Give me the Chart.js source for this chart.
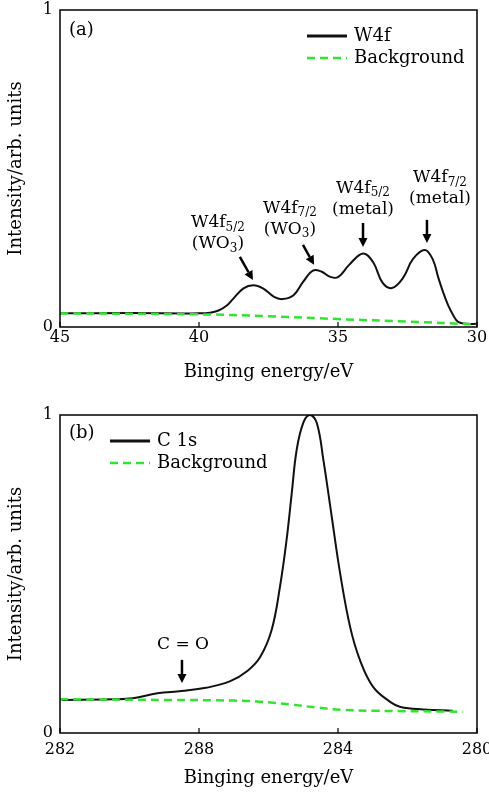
<!DOCTYPE html>
<html>
<head>
<meta charset="utf-8">
<script src="https://cdn.jsdelivr.net/npm/chart.js@4.4.0/dist/chart.umd.min.js"></script>
<style>
  html, body { margin: 0; padding: 0; background: #fff; overflow: hidden; }
  .panel { position: absolute; left: 0; width: 489px; }
  #panelA { top: 0; height: 385px; }
  #panelB { top: 390px; height: 404px; }
</style>
</head>
<body>
<div class="panel" id="panelA"><canvas id="chartA"></canvas></div>
<div class="panel" id="panelB"><canvas id="chartB"></canvas></div>
<script>
// panel (a): W4f spectrum
const energyA = [45, 42.5, 40, 39.6, 39.3, 39.0, 38.78, 38.4, 38.05, 37.7, 37.3, 37.0, 36.6, 36.25, 35.9, 35.6, 35.3, 35.0, 34.6, 34.1, 33.74, 33.4, 33.06, 32.66, 32.30, 31.87, 31.58, 31.40, 31.22, 31.04, 30.86, 30.68, 30.36, 30];
const w4f = [0.043, 0.044, 0.043, 0.045, 0.052, 0.068, 0.088, 0.122, 0.132, 0.122, 0.095, 0.088, 0.10, 0.143, 0.178, 0.175, 0.159, 0.157, 0.196, 0.232, 0.205, 0.14, 0.123, 0.155, 0.215, 0.243, 0.211, 0.158, 0.11, 0.069, 0.038, 0.016, 0.01, 0.01];
const energyBgA = [45, 40, 37.5, 35, 32.5, 30];
const bgA = [0.043, 0.04, 0.034, 0.025, 0.017, 0.008];
const tickValuesA = [45, 40, 35, 30];
const tickLabelsA = ['45', '40', '35', '30'];

// panel (b): C 1s spectrum
const energyB = [291.95, 290.5, 289.9, 289.2, 288.5, 287.8, 287.1, 286.6, 286.24, 285.91, 285.67, 285.48, 285.33, 285.19, 285.0, 284.81, 284.61, 284.42, 284.18, 283.94, 283.65, 283.37, 282.99, 282.5, 282.2, 281.55, 280.7];
const c1s = [0.104, 0.106, 0.109, 0.125, 0.132, 0.142, 0.163, 0.196, 0.239, 0.324, 0.46, 0.607, 0.755, 0.89, 0.975, 1.0, 0.975, 0.858, 0.68, 0.503, 0.333, 0.23, 0.145, 0.098, 0.082, 0.074, 0.07];
const energyBgB = [292, 289, 287, 286.2, 285.4, 284.6, 283.9, 283, 280.4];
const bgB = [0.106, 0.104, 0.102, 0.098, 0.09, 0.08, 0.073, 0.07, 0.067];
const tickValuesB = [292, 288, 284, 280];
const tickLabelsB = ['282', '288', '284', '280'];

// peak labels, anchored in data coordinates
const notesA = [
  { lines: [['W4f', '5/2', ''], ['(WO', '3', ')']], textAt: [39.32, 0.328], from: [38.53, 0.221], to: [38.06, 0.148] },
  { lines: [['W4f', '7/2', ''], ['(WO', '3', ')']], textAt: [36.73, 0.375], from: [36.26, 0.259], to: [35.86, 0.196] },
  { lines: [['W4f', '5/2', ''], ['(metal)', '', '']], textAt: [34.1, 0.438], from: [34.1, 0.328], to: [34.1, 0.252] },
  { lines: [['W4f', '7/2', ''], ['(metal)', '', '']], textAt: [31.33, 0.470], from: [31.8, 0.338], to: [31.8, 0.265] }
];
const notesB = [
  { lines: [['C = O', '', '']], textAt: [288.46, 0.277], from: [288.49, 0.230], to: [288.49, 0.157] }
];

const FONT = '"DejaVu Serif", serif';
const GREEN = 'rgb(50, 228, 50)';

function pts(xs, ys) {
  return xs.map((x, i) => ({ x: x, y: ys[i] }));
}

function drawRich(ctx, parts, cx, cy) {
  const [main, sub, tail] = parts;
  ctx.font = '17px ' + FONT;
  const w1 = ctx.measureText(main).width;
  const w3 = ctx.measureText(tail).width;
  ctx.font = '12px ' + FONT;
  const w2 = sub ? ctx.measureText(sub).width : 0;
  const x0 = cx - (w1 + w2 + w3) / 2;
  ctx.textAlign = 'left';
  ctx.textBaseline = 'middle';
  ctx.font = '17px ' + FONT;
  ctx.fillText(main, x0, cy);
  if (sub) {
    ctx.font = '12px ' + FONT;
    ctx.fillText(sub, x0 + w1, cy + 5);
  }
  if (tail) {
    ctx.font = '17px ' + FONT;
    ctx.fillText(tail, x0 + w1 + w2, cy);
  }
}

function drawArrow(ctx, x1, y1, x2, y2) {
  const ang = Math.atan2(y2 - y1, x2 - x1);
  const hl = 9, hw = 4.5;
  const bx = x2 - hl * Math.cos(ang), by = y2 - hl * Math.sin(ang);
  ctx.lineWidth = 2.5;
  ctx.beginPath();
  ctx.moveTo(x1, y1);
  ctx.lineTo(bx, by);
  ctx.stroke();
  ctx.beginPath();
  ctx.moveTo(x2, y2);
  ctx.lineTo(bx + hw * Math.sin(ang), by - hw * Math.cos(ang));
  ctx.lineTo(bx - hw * Math.sin(ang), by + hw * Math.cos(ang));
  ctx.closePath();
  ctx.fill();
}

const decor = {
  id: 'decor',
  afterDatasetsDraw(chart, args, opts) {
    const { ctx, chartArea: a } = chart;
    const x = chart.scales.x, y = chart.scales.y;
    ctx.save();
    ctx.strokeStyle = '#000';
    ctx.fillStyle = '#000';
    // frame
    ctx.lineWidth = 1.5;
    ctx.strokeRect(a.left, a.top, a.right - a.left, a.bottom - a.top);
    // inside tick marks on x axis
    ctx.lineWidth = 1.2;
    x.ticks.forEach((t, i) => {
      const px = x.getPixelForTick(i);
      ctx.beginPath();
      ctx.moveTo(px, a.bottom);
      ctx.lineTo(px, a.bottom - 5);
      ctx.stroke();
    });
    // panel tag
    ctx.font = '18px ' + FONT;
    ctx.textAlign = 'left';
    ctx.textBaseline = 'middle';
    ctx.fillText(opts.tag, opts.tagX, opts.tagY);
    // legend
    chart.data.datasets.forEach((ds, i) => {
      const ly = opts.legendY + i * 22;
      ctx.strokeStyle = ds.borderColor;
      ctx.lineWidth = i === 0 ? 3 : 2.5;
      ctx.setLineDash(ds.borderDash || []);
      ctx.beginPath();
      ctx.moveTo(opts.legendX, ly);
      ctx.lineTo(opts.legendX + 40, ly);
      ctx.stroke();
      ctx.setLineDash([]);
      ctx.font = '18px ' + FONT;
      ctx.fillStyle = '#000';
      ctx.fillText(ds.label, opts.legendX + 47, ly);
    });
    // annotations
    ctx.strokeStyle = '#000';
    ctx.fillStyle = '#000';
    opts.notes.forEach(n => {
      const tx = x.getPixelForValue(n.textAt[0]);
      const ty = y.getPixelForValue(n.textAt[1]);
      n.lines.forEach((ln, k) => drawRich(ctx, ln, tx, ty + k * 21));
      drawArrow(ctx,
        x.getPixelForValue(n.from[0]), y.getPixelForValue(n.from[1]),
        x.getPixelForValue(n.to[0]), y.getPixelForValue(n.to[1]));
    });
    ctx.restore();
  }
};

function makeChart(id, cfg) {
  return new Chart(document.getElementById(id), {
    type: 'line',
    data: {
      datasets: [
        {
          label: cfg.name,
          data: pts(cfg.ex, cfg.ey),
          borderColor: '#111',
          borderWidth: 2,
          pointRadius: 0,
          tension: 0.4,
          fill: false,
          order: 1
        },
        {
          label: 'Background',
          data: pts(cfg.bx, cfg.by),
          borderColor: GREEN,
          borderWidth: 2.5,
          borderDash: [8, 5],
          pointRadius: 0,
          tension: 0.4,
          fill: false,
          order: 0
        }
      ]
    },
    options: {
      responsive: true,
      maintainAspectRatio: false,
      animation: false,
      layout: { padding: { top: cfg.padTop, right: 12, bottom: 0, left: 0 } },
      plugins: {
        legend: { display: false },
        tooltip: { enabled: false },
        decor: cfg.decor
      },
      scales: {
        x: {
          type: 'linear',
          min: cfg.xmin,
          max: cfg.xmax,
          reverse: true,
          grid: { display: false, drawTicks: false },
          border: { display: false },
          afterBuildTicks: s => { s.ticks = cfg.tickValues.map(v => ({ value: v })); },
          ticks: {
            color: '#000',
            font: { family: FONT, size: 16 },
            padding: cfg.tickPad,
            maxRotation: 0,
            callback: (v) => cfg.tickLabels[cfg.tickValues.indexOf(v)]
          },
          title: {
            display: true,
            text: 'Binging energy/eV',
            color: '#000',
            font: { family: FONT, size: 18 },
            padding: { top: 0, bottom: cfg.titlePad }
          },
          afterFit: s => { s.height = cfg.xHeight; s.paddingLeft = 0; s.paddingRight = 0; }
        },
        y: {
          min: 0,
          max: 1,
          grid: { display: false, drawTicks: false },
          border: { display: false },
          afterBuildTicks: s => { s.ticks = [{ value: 0 }, { value: 1 }]; },
          ticks: {
            color: '#000',
            font: { family: FONT, size: 16 },
            padding: 7
          },
          title: {
            display: true,
            text: 'Intensity/arb. units',
            color: '#000',
            font: { family: FONT, size: 18 },
            padding: { top: 6, bottom: 0 }
          },
          afterFit: s => { s.width = 60; s.paddingTop = 0; s.paddingBottom = 0; }
        }
      }
    },
    plugins: [decor]
  });
}

makeChart('chartA', {
  name: 'W4f', ex: energyA, ey: w4f, bx: energyBgA, by: bgA,
  xmin: 30, xmax: 45, tickValues: tickValuesA, tickLabels: tickLabelsA,
  padTop: 10, xHeight: 58, tickPad: 1, titlePad: 2,
  decor: { tag: '(a)', tagX: 69, tagY: 30, legendX: 307, legendY: 36, notes: notesA }
});

makeChart('chartB', {
  name: 'C 1s', ex: energyB, ey: c1s, bx: energyBgB, by: bgB,
  xmin: 280, xmax: 292, tickValues: tickValuesB, tickLabels: tickLabelsB,
  padTop: 25, xHeight: 61, tickPad: 7, titlePad: 5,
  decor: { tag: '(b)', tagX: 69, tagY: 43, legendX: 110, legendY: 51, notes: notesB }
});
</script>
</body>
</html>
